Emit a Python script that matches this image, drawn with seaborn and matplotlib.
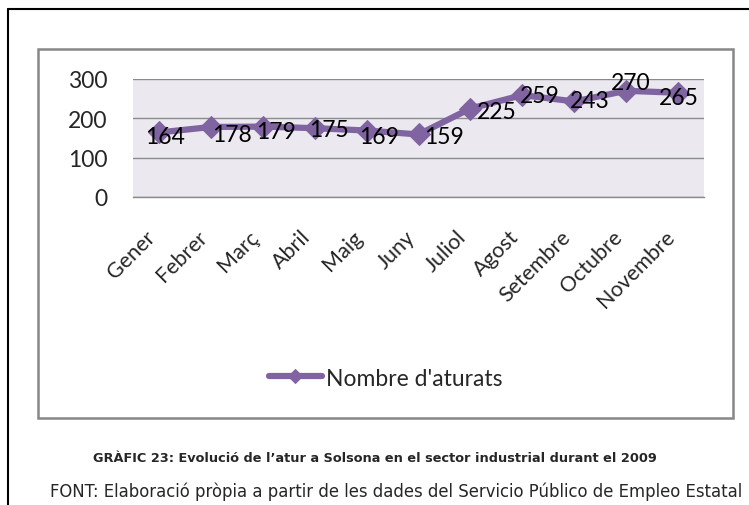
import numpy as np
import pandas as pd
import seaborn as sns
import matplotlib.pyplot as plt
from matplotlib.lines import Line2D
from matplotlib.patches import Rectangle

# Dades: atur al sector industrial, Solsona 2009
mesos = ["Gener", "Febrer", "Març", "Abril", "Maig", "Juny", "Juliol",
         "Agost", "Setembre", "Octubre", "Novembre"]
aturats = [164, 178, 179, 175, 169, 159, 225, 259, 243, 270, 265]
serie = "Nombre d'aturats"
titol = "GRÀFIC 23: Evolució de l\u2019atur a Solsona en el sector industrial durant el 2009"
font_txt = "FONT: Elaboració pròpia a partir de les dades del Servicio Público de Empleo Estatal"

# petits desplaçaments (px) de les etiquetes, com a l'original d'Excel
etq_dx = [6, 21, 13, 14, 12, 25, 26, 17, 16, 5, 1]
etq_dy = [4, 8, 5, 1, 6, 2, 3, 0, -1, -8, 5]

df = pd.DataFrame({"Mes": mesos, "Aturats": aturats})

sns.set_style("white")
plt.rcParams['font.family'] = ['Lato', 'DejaVu Sans']

W, H = 749, 506
fig = plt.figure(figsize=(W / 100, H / 100), dpi=100)

# marcs
fig.add_artist(Line2D([8 / W, 1], [1 - 10 / H, 1 - 10 / H], transform=fig.transFigure,
                      color="black", lw=1.5))
fig.add_artist(Line2D([8 / W, 8 / W], [1 - 10 / H, 0], transform=fig.transFigure,
                      color="black", lw=1.5))
fig.add_artist(Rectangle((38 / W, 1 - 419 / H), (733 - 38) / W, (419 - 50) / H,
                         transform=fig.transFigure, fill=False,
                         edgecolor="#878787", lw=1.8))

ax = fig.add_axes([133 / W, 1 - 198 / H, (704 - 133) / W, (198 - 80) / H])
ax.set_facecolor("#ebe9ef")

purple = "#8064a2"
sns.lineplot(data=df, x="Mes", y="Aturats", ax=ax, color=purple, lw=4.5,
             marker="D", markersize=11, markeredgecolor=purple,
             sort=False, label=serie)

for i, v in enumerate(aturats):
    ax.annotate(str(v), (i, v), xytext=(etq_dx[i], -etq_dy[i]),
                textcoords="offset pixels", ha="center", va="center",
                fontsize=16.5, color="black")

ax.set_xlim(-0.5, len(mesos) - 0.5)
ax.set_ylim(0, 300)
ax.set_yticks([0, 100, 200, 300])
ax.set_xticks(np.arange(-0.5, len(mesos)), minor=True)
ax.set_xlabel("")
ax.set_ylabel("")

ax.yaxis.grid(True, color="#8a8a8a", lw=1)
ax.xaxis.grid(False)
for s in ["top", "right", "left"]:
    ax.spines[s].set_visible(False)
ax.spines["bottom"].set_color("#8a8a8a")
ax.spines["bottom"].set_linewidth(1)

ax.tick_params(axis="y", length=6.5, color="#8a8a8a", pad=12, labelsize=16.5)
ax.tick_params(axis="x", which="major", length=0, pad=21, labelsize=15.5)
ax.tick_params(axis="x", which="minor", length=6.5, color="#8a8a8a", direction="out")
plt.setp(ax.get_xticklabels(), rotation=45, ha="right")

leg = ax.legend(loc="center", bbox_to_anchor=(386 / W, 1 - 379 / H),
                bbox_transform=fig.transFigure, frameon=False, fontsize=16.5,
                handlelength=2.3, handletextpad=0.2)
for h in leg.legend_handles:
    h.set_markersize(7)

fig.text(375 / W, 1 - 459 / H, titol, ha="center", va="center",
         fontsize=9.3, fontweight="bold", family="DejaVu Sans")
fig.text(396 / W, 1 - 492 / H, font_txt, ha="center", va="center",
         fontsize=11.9, family="DejaVu Sans")

fig.savefig("out.png", dpi=100)
